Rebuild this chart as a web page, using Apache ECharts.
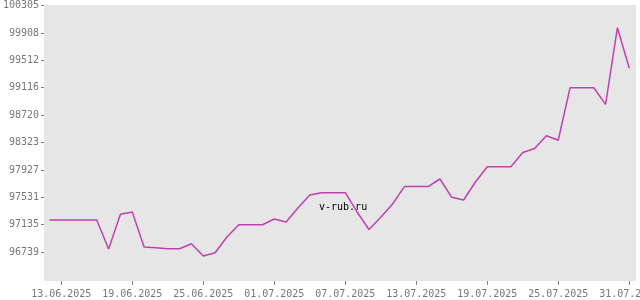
<!DOCTYPE html>
<html><head><meta charset="utf-8">
<script src="https://cdn.jsdelivr.net/npm/echarts@6/dist/echarts.min.js"></script>
<style>html,body{margin:0;padding:0;background:#fff}#c{width:640px;height:300px}</style>
</head><body><div id="c"></div>
<script>
const dates = ['12.06.2025','13.06.2025','14.06.2025','15.06.2025','16.06.2025','17.06.2025','18.06.2025','19.06.2025','20.06.2025','21.06.2025','22.06.2025','23.06.2025','24.06.2025','25.06.2025','26.06.2025','27.06.2025','28.06.2025','29.06.2025','30.06.2025','01.07.2025','02.07.2025','03.07.2025','04.07.2025','05.07.2025','06.07.2025','07.07.2025','08.07.2025','09.07.2025','10.07.2025','11.07.2025','12.07.2025','13.07.2025','14.07.2025','15.07.2025','16.07.2025','17.07.2025','18.07.2025','19.07.2025','20.07.2025','21.07.2025','22.07.2025','23.07.2025','24.07.2025','25.07.2025','26.07.2025','27.07.2025','28.07.2025','29.07.2025','30.07.2025','31.07.2025'];
const values = [97203,97203,97203,97203,97203,96784,97285,97319,96813,96803,96788,96788,96860,96683,96730,96957,97135,97135,97135,97218,97174,97377,97565,97598,97598,97598,97319,97066,97242,97434,97686,97686,97686,97796,97531,97492,97753,97974,97974,97974,98178,98237,98422,98356,99116,99116,99116,98875,99984,99397];
const xTickLabels = ['13.06.2025','19.06.2025','25.06.2025','01.07.2025','07.07.2025','13.07.2025','19.07.2025','25.07.2025','31.07.2025'];
const yTickLabels = ['96739','97135','97531','97927','98323','98720','99116','99512','99908','100305'];
const watermark = 'v-rub.ru';

function parseD(s){const p=s.split('.');return Date.UTC(+p[2],+p[1]-1,+p[0]);}
function fmtD(t){const d=new Date(t);const z=n=>(n<10?'0':'')+n;return z(d.getUTCDate())+'.'+z(d.getUTCMonth()+1)+'.'+d.getUTCFullYear();}
const DAY=86400000;
const base = parseD(xTickLabels[0]);
const toDay = s => Math.round((parseD(s)-base)/DAY);
const xTicks = xTickLabels.map(toDay);
const yTicks = yTickLabels.map(Number);
const data = dates.map((d,i)=>[toDay(d), values[i]]);
const font='DejaVu Sans Mono';
const chart = echarts.init(document.getElementById('c'), null, {renderer:'canvas'});
chart.setOption({
  animation:false,
  backgroundColor:'#ffffff',
  grid:{left:44,right:4,top:5,bottom:19,show:true,backgroundColor:'#e6e6e6',borderWidth:0,containLabel:false,outerBoundsMode:'none'},
  xAxis:{type:'value',min:xTicks[0]-1.46,max:xTicks[xTicks.length-1]+0.57,
    axisLine:{show:false,onZero:false},splitLine:{show:false},
    axisTick:{show:true,inside:false,length:4,customValues:xTicks,lineStyle:{color:'#808080'}},
    axisLabel:{customValues:xTicks,margin:8,fontFamily:font,fontSize:10,color:'#777777',formatter:v=>fmtD(base+v*DAY),hideOverlap:false}},
  yAxis:{type:'value',min:96321,max:100312,
    axisLine:{show:false,onZero:false},splitLine:{show:false},
    axisTick:{show:true,inside:false,length:3,customValues:yTicks,lineStyle:{color:'#808080'}},
    axisLabel:{customValues:yTicks,margin:5,fontFamily:font,fontSize:10,color:'#777777',formatter:v=>String(v)}},
  graphic:[{type:'text',left:319,top:202,z:100,style:{text:watermark,font:'10px "DejaVu Sans Mono"',fill:'#000000'}}],
  series:[{type:'line',data:data,showSymbol:false,symbol:'none',lineStyle:{width:1.5,color:'#c040b0'},itemStyle:{color:'#c040b0'}}]
});
</script></body></html>
